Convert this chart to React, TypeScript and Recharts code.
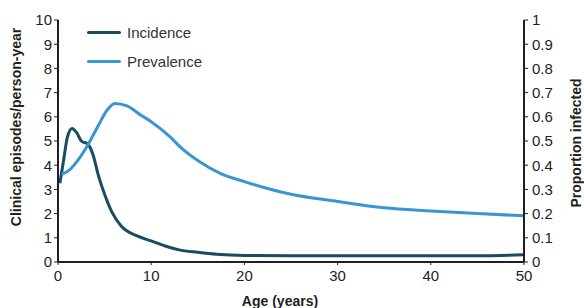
import { LineChart, Line, XAxis, YAxis } from "recharts";

// Incidence: clinical episodes per person-year (left axis)
const incidenceAges = [0.2, 0.6, 1, 1.5, 2, 2.5, 3.2, 3.8, 4.3, 5, 5.8, 6.8, 8.5, 10, 11.5, 13, 15, 17, 20, 25, 30, 35, 40, 45, 50];
const incidenceValues = [3.25, 4.2, 5.15, 5.52, 5.35, 5.0, 4.87, 4.38, 3.62, 2.8, 2.05, 1.48, 1.08, 0.87, 0.66, 0.5, 0.4, 0.32, 0.27, 0.26, 0.26, 0.26, 0.26, 0.26, 0.3];

// Prevalence: proportion infected (right axis)
const prevalenceAges = [0.4, 1.3, 2.2, 3.25, 4.3, 5.2, 6.1, 7.4, 9, 10, 12, 13.1, 15.2, 17.4, 20, 25, 30, 35, 40, 45, 50];
const prevalenceValues = [0.362, 0.383, 0.424, 0.487, 0.562, 0.624, 0.655, 0.645, 0.604, 0.58, 0.518, 0.476, 0.414, 0.366, 0.332, 0.28, 0.25, 0.224, 0.211, 0.2, 0.191];

const ageTicks = [0, 10, 20, 30, 40, 50];
const leftTicks = [0, 1, 2, 3, 4, 5, 6, 7, 8, 9, 10];
const rightTicks = [0, 0.1, 0.2, 0.3, 0.4, 0.5, 0.6, 0.7, 0.8, 0.9, 1];

const incidenceData = incidenceAges.map((age, i) => ({ age, incidence: incidenceValues[i] }));
const prevalenceData = prevalenceAges.map((age, i) => ({ age, prevalence: prevalenceValues[i] }));

const INK = "#231f20";
const DARK = "#1b4a63";
const LIGHT = "#3a96d3";
const FONT = "'Liberation Sans', Arial, sans-serif";

const tickStyle = { fill: INK, fontSize: 15, fontFamily: FONT };
const axisLine = { stroke: INK, strokeWidth: 2 };

// axis title drawn inside the axis viewBox, dx/dy from its top-left corner
function AxisTitle({ viewBox, text, dx, dy, rotate }: any) {
  const x = viewBox.x + dx;
  const y = viewBox.y + dy;
  return (
    <text
      x={x}
      y={y}
      transform={rotate ? `rotate(-90 ${x} ${y})` : undefined}
      textAnchor="middle"
      dominantBaseline="central"
      fill={INK}
      fontSize={14}
      fontWeight="bold"
      fontFamily={FONT}
    >
      {text}
    </text>
  );
}

function LegendBox() {
  const items = [
    { name: "Incidence", color: DARK },
    { name: "Prevalence", color: LIGHT },
  ];
  return (
    <div style={{ position: "absolute", left: 87, top: 18, fontFamily: FONT, fontSize: 15, color: "#333" }}>
      {items.map((it) => (
        <div key={it.name} style={{ display: "flex", alignItems: "center", height: 29 }}>
          <div style={{ width: 34, height: 3, background: it.color, borderRadius: 2, marginRight: 6 }} />
          <span>{it.name}</span>
        </div>
      ))}
    </div>
  );
}

export default function App() {
  return (
    <div style={{ position: "absolute", left: 0, top: 0, width: 584, height: 308, background: "#fff" }}>
      <LineChart width={584} height={308} margin={{ top: 20, right: 0, left: 0, bottom: 0 }}>
        <XAxis
          xAxisId="x"
          dataKey="age"
          type="number"
          domain={[0, 50]}
          ticks={ageTicks}
          allowDuplicatedCategory={false}
          height={46}
          tick={tickStyle}
          axisLine={axisLine}
          tickLine={{ stroke: INK, strokeWidth: 1 }}
          tickSize={3}
          tickMargin={5}
          label={(p: any) => <AxisTitle viewBox={p.viewBox} text="Age (years)" dx={222} dy={39} />}
        />
        <YAxis
          yAxisId="left"
          orientation="left"
          domain={[0, 10]}
          ticks={leftTicks}
          width={58}
          tick={tickStyle}
          axisLine={axisLine}
          tickLine={{ stroke: INK, strokeWidth: 1 }}
          tickSize={4}
          interval={0}
          label={(p: any) => (
            <AxisTitle viewBox={p.viewBox} text="Clinical episodes/person-year" dx={16} dy={107} rotate />
          )}
        />
        <YAxis
          yAxisId="right"
          orientation="right"
          domain={[0, 1]}
          ticks={rightTicks}
          width={60}
          tick={tickStyle}
          axisLine={axisLine}
          tickLine={{ stroke: INK, strokeWidth: 1 }}
          tickSize={4}
          tickMargin={4}
          interval={0}
          label={(p: any) => (
            <AxisTitle viewBox={p.viewBox} text="Proportion infected" dx={52} dy={123} rotate />
          )}
        />
        <Line
          xAxisId="x"
          yAxisId="left"
          data={incidenceData}
          dataKey="incidence"
          type="monotone"
          stroke={DARK}
          strokeWidth={3}
          dot={false}
          isAnimationActive={false}
        />
        <Line
          xAxisId="x"
          yAxisId="right"
          data={prevalenceData}
          dataKey="prevalence"
          type="monotone"
          stroke={LIGHT}
          strokeWidth={3}
          dot={false}
          isAnimationActive={false}
        />
      </LineChart>
      <LegendBox />
    </div>
  );
}
